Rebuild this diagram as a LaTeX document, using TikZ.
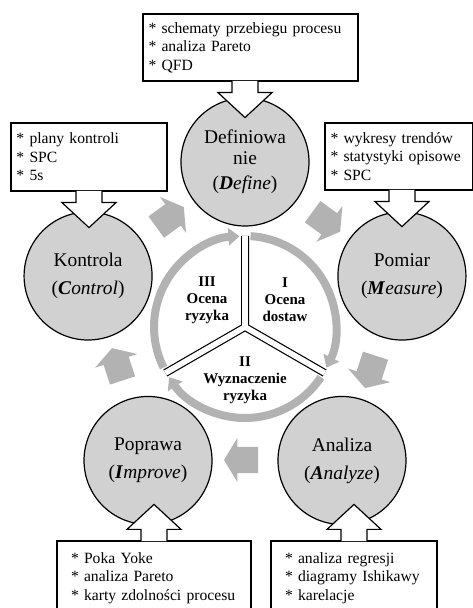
\documentclass[tikz,border=0pt]{standalone}
\usepackage{fontspec}
\setmainfont{Liberation Serif}
\usetikzlibrary{arrows.meta,shapes.arrows}

\begin{document}
\begin{tikzpicture}[
  x=1bp,y=1bp,
  phase/.style={circle,draw=black,line width=1.2bp,fill=black!18,
    minimum size=128bp,inner sep=0pt,align=center,
    font=\fontsize{19.5}{21}\selectfont},
  tools/.style={draw=black,line width=1.2bp,fill=white,align=left,
    inner ysep=0pt,font=\fontsize{15.7}{18.5}\selectfont},
  pointer/.style={draw=black,line width=1.2bp,fill=white,line join=miter},
  flow/.style={single arrow,fill=black!30,draw=none,minimum height=34bp,
    inner xsep=0pt,inner ysep=13bp,single arrow head extend=9bp,
    single arrow tip angle=118},
  ring/.style={line width=8bp,draw=black!30,-{Triangle[width=17bp,length=11bp]}},
  segment/.style={align=center,font=\bfseries\fontsize{15}{17}\selectfont}
]
  \useasboundingbox (0,0) rectangle (473,608);
  \clip (0,0) rectangle (473,608);
  \coordinate (c) at (245,281);

  % inner cycle: three arcs with the Y-shaped double divider
  \draw[ring] ([shift={(86.5:91)}]c) arc[start angle=86.5,end angle=-26.5,radius=91];
  \draw[ring] ([shift={(-33.5:91)}]c) arc[start angle=-33.5,end angle=-146.5,radius=91];
  \draw[ring] ([shift={(206.5:91)}]c) arc[start angle=206.5,end angle=93.5,radius=91];

  \coordinate (dtop) at ([shift={(90:91)}]c);
  \coordinate (dright) at ([shift={(-30:92)}]c);
  \coordinate (dleft) at ([shift={(210:92)}]c);
  \draw[line width=8bp] (c) -- (dtop) (c) -- (dright) (c) -- (dleft);
  \fill (c) circle (4bp);
  \draw[white,line width=5.6bp] (c) -- (dtop) (c) -- (dright) (c) -- (dleft);
  \fill[white] (c) circle (2.8bp);

  \node[segment] (supply) at ([shift={(40,27)}]c) {I\\Ocena\\dostaw};
  \node[segment] (riskid) at ([shift={(0,-53)}]c) {II\\Wyznaczenie\\ryzyka};
  \node[segment] (riskeval) at ([shift={(-38,27)}]c) {III\\Ocena\\ryzyka};

  % grey block arrows between the phases
  \node[flow,rotate=36] (f1) at ([shift={(126:133)}]c) {};
  \node[flow,rotate=-36] (f2) at ([shift={(54:133)}]c) {};
  \node[flow,rotate=-108] (f3) at ([shift={(-18:133)}]c) {};
  \node[flow,rotate=180] (f4) at ([shift={(-90:133)}]c) {};
  \node[flow,rotate=108] (f5) at ([shift={(198:133)}]c) {};

  % DMAIC phases
  \node[phase] (define) at ([shift={(90:165)}]c)
    {Definiowa\\nie\\[4bp](\textbf{\textit{D}}\textit{efine})};
  \node[phase] (measure) at ([shift={(18:165)}]c)
    {Pomiar\\[7bp](\textbf{\textit{M}}\textit{easure})};
  \node[phase] (analyze) at ([shift={(-54:165)}]c)
    {Analiza\\[7bp](\textbf{\textit{A}}\textit{nalyze})};
  \node[phase] (improve) at ([shift={(-126:165)}]c)
    {Poprawa\\[7bp](\textbf{\textit{I}}\textit{mprove})};
  \node[phase] (control) at ([shift={(162:165)}]c)
    {Kontrola\\[7bp](\textbf{\textit{C}}\textit{ontrol})};

  % tool boxes
  \node[tools,minimum width=215bp,minimum height=67bp,text width=204bp,
    inner xsep=5.5bp] (defbox) at (250.5,560.5)
    {* schematy przebiegu procesu\\{}* analiza Pareto\\{}* QFD};
  \node[tools,minimum width=156bp,minimum height=68bp,text width=145bp,
    inner xsep=5.5bp] (conbox) at (89,451)
    {* plany kontroli\\{}* SPC\\{}* 5s};
  \node[tools,minimum width=147.3bp,minimum height=67bp,text width=136.3bp,
    inner xsep=5.5bp] (meabox) at (398.65,451.5)
    {* wykresy trendów\\{}* statystyki opisowe\\{}* SPC};
  \node[tools,minimum width=194bp,minimum height=74bp,text width=166bp,
    inner xsep=14bp] (impbox) at (154,30)
    {* Poka Yoke\\{}* analiza Pareto\\{}*~karty~zdolności~procesu};
  \node[tools,minimum width=166bp,minimum height=74bp,text width=138bp,
    inner xsep=14bp] (anabox) at (354,30)
    {* analiza regresji\\{}*~diagramy~Ishikawy\\{}* karelacje};

  % callout pointers
  \draw[pointer] (defbox.south -| define) ++(-13,0.7) -- ++(0,-11.7) -- ++(-14,0)
    -- ++(27,-25) -- ++(27,25) -- ++(-14,0) -- ++(0,11.7);
  \draw[pointer] (conbox.south) ++(-13,0.7) -- ++(0,-11.7) -- ++(-14,0)
    -- ++(27,-25) -- ++(27,25) -- ++(-14,0) -- ++(0,11.7);
  \draw[pointer] (meabox.south -| measure) ++(-13,0.7) -- ++(0,-11.7) -- ++(-14,0)
    -- ++(27,-25) -- ++(27,25) -- ++(-14,0) -- ++(0,11.7);
  \draw[pointer] (impbox.north) ++(-13,-0.7) -- ++(0,11.7) -- ++(-14,0)
    -- ++(27,25) -- ++(27,-25) -- ++(-14,0) -- ++(0,-11.7);
  \draw[pointer] (anabox.north) ++(-13,-0.7) -- ++(0,11.7) -- ++(-14,0)
    -- ++(27,25) -- ++(27,-25) -- ++(-14,0) -- ++(0,-11.7);
\end{tikzpicture}
\end{document}
